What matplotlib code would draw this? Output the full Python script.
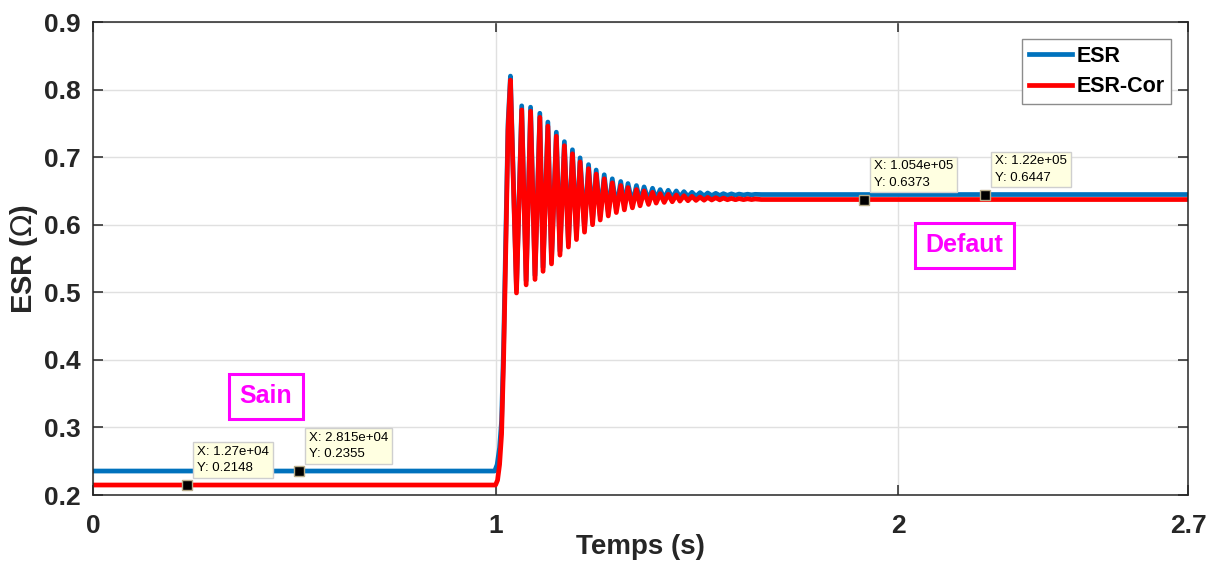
import matplotlib
matplotlib.use('Agg')
import matplotlib.pyplot as plt

plt.rcParams['font.family'] = ['Liberation Sans', 'DejaVu Sans']

# flat parts (s, ohm)
t_end = 2.72
red_healthy = 0.2148
blue_healthy = 0.2355
red_fault = 0.6373
blue_fault = 0.6447

# step at t = 1 s, up to first peak
red_rise_t = [1.000, 1.005, 1.010, 1.015, 1.020, 1.026, 1.031]
red_rise_v = [0.2148, 0.222, 0.245, 0.29, 0.40, 0.58, 0.74]
blue_rise_t = [0.998, 1.004, 1.010, 1.015, 1.020, 1.026, 1.031]
blue_rise_v = [0.2355, 0.245, 0.27, 0.31, 0.42, 0.60, 0.75]

# damped ringing, read peak by peak
peak_t = [1.037, 1.065, 1.087, 1.110, 1.130, 1.151, 1.171, 1.191, 1.210, 1.231,
          1.250, 1.270, 1.290, 1.311, 1.329, 1.350, 1.369, 1.390, 1.409, 1.429,
          1.449, 1.468, 1.488, 1.508, 1.527, 1.547, 1.566, 1.586, 1.605, 1.626, 1.645]
red_peak = [0.814, 0.770, 0.768, 0.759, 0.746, 0.731, 0.717, 0.705, 0.693, 0.683,
            0.675, 0.668, 0.662, 0.658, 0.655, 0.652, 0.650, 0.648, 0.646, 0.645,
            0.644, 0.643, 0.642, 0.641, 0.6405, 0.640, 0.6395, 0.639, 0.6387, 0.6384, 0.6381]
blue_peak = [0.820, 0.776, 0.774, 0.765, 0.752, 0.737, 0.723, 0.711, 0.699, 0.689,
             0.681, 0.674, 0.668, 0.664, 0.661, 0.658, 0.656, 0.654, 0.652, 0.651,
             0.650, 0.649, 0.648, 0.6475, 0.647, 0.6465, 0.646, 0.6457, 0.6454, 0.6452, 0.645]

trough_t = [1.052, 1.076, 1.098, 1.118, 1.139, 1.160, 1.181, 1.201, 1.221, 1.241,
            1.260, 1.280, 1.300, 1.320, 1.340, 1.359, 1.380, 1.399, 1.419, 1.439,
            1.458, 1.478, 1.498, 1.518, 1.537, 1.557, 1.576, 1.596, 1.616, 1.636]
red_trough = [0.499, 0.511, 0.519, 0.531, 0.542, 0.555, 0.567, 0.578, 0.589, 0.600,
              0.607, 0.613, 0.618, 0.622, 0.625, 0.628, 0.630, 0.632, 0.633, 0.634,
              0.635, 0.6355, 0.636, 0.6363, 0.6366, 0.6368, 0.637, 0.637, 0.6371, 0.6372]
blue_trough = [0.505, 0.517, 0.525, 0.537, 0.548, 0.561, 0.573, 0.584, 0.595, 0.606,
               0.613, 0.619, 0.624, 0.628, 0.631, 0.634, 0.636, 0.638, 0.639, 0.640,
               0.641, 0.6415, 0.642, 0.6425, 0.643, 0.6432, 0.6435, 0.6437, 0.6440, 0.6442]

# data tips: time (s), value, sample index shown
tip_t = [0.234, 0.512, 1.915, 2.216]
tip_v = [0.2148, 0.2355, 0.6373, 0.6447]
tip_x = ['1.27e+04', '2.815e+04', '1.054e+05', '1.22e+05']

xticks = [0, 1, 2, 2.72]
xtick_labels = ['0', '1', '2', '2.7']
yticks = [0.2, 0.3, 0.4, 0.5, 0.6, 0.7, 0.8, 0.9]


def build(rise_t, rise_v, pk, tr, v0, v1):
    pts = [(0.0, v0)] + list(zip(rise_t, rise_v))
    ring = sorted(list(zip(peak_t, pk)) + list(zip(trough_t, tr)))
    pts += ring + [(1.66, v1), (t_end, v1)]
    return [p[0] for p in pts], [p[1] for p in pts]


bt, bv = build(blue_rise_t, blue_rise_v, blue_peak, blue_trough, blue_healthy, blue_fault)
rt, rv = build(red_rise_t, red_rise_v, red_peak, red_trough, red_healthy, red_fault)

fig = plt.figure(figsize=(12.09, 5.75), dpi=100)
ax = fig.add_axes([0.0769, 0.1391, 0.9057, 0.8226])

ax.plot(bt, bv, color='#0072BD', lw=3.4, label='ESR', solid_joinstyle='round')
ax.plot(rt, rv, color='#FF0000', lw=3.4, label='ESR-Cor', solid_joinstyle='round')

# data tips
for t, v, xs in zip(tip_t, tip_v, tip_x):
    ax.plot(t, v, 's', ms=6.5, mfc='black', mec='#b8ad8a', mew=1.0, zorder=5)
    ax.annotate('X: %s\nY: %.4f' % (xs, v), (t, v), xytext=(10, 11),
                textcoords='offset pixels', ha='left', va='bottom',
                fontsize=9.5, linespacing=1.45, zorder=6,
                bbox=dict(boxstyle='square,pad=0.3', fc='#ffffe1', ec='#cfcfcf', lw=1))

# state labels
box = dict(boxstyle='square,pad=0.42', fc='white', ec='#ff00ff', lw=2.2)
ax.text(0.430, 0.3465, 'Sain', color='#ff00ff', fontsize=18, fontweight='bold',
        ha='center', va='center', bbox=box)
ax.text(2.164, 0.570, 'Defaut', color='#ff00ff', fontsize=18, fontweight='bold',
        ha='center', va='center', bbox=box)

ax.set_xlim(0, t_end)
ax.set_ylim(0.2, 0.9)
ax.set_xticks(xticks)
ax.set_xticklabels(xtick_labels)
ax.set_yticks(yticks)
ax.set_yticklabels(['%.1f' % y for y in yticks])
ax.grid(True, color='#e0e0e0', lw=1)
ax.set_axisbelow(True)

ax.tick_params(direction='in', length=7, width=1.1, top=True, right=True,
               labelsize=19, colors='#262626')
ax.tick_params(axis='x', pad=14)
ax.tick_params(axis='y', pad=9)
for lab in ax.get_xticklabels() + ax.get_yticklabels():
    lab.set_fontweight('bold')
for s in ax.spines.values():
    s.set_color('#262626')
    s.set_linewidth(1.1)

ax.set_xlabel('Temps (s)', fontsize=20, fontweight='bold', labelpad=-3, color='#262626')
ax.set_ylabel('ESR ($\\Omega$)', fontsize=21, fontweight='bold', labelpad=3, color='#262626')

leg = ax.legend(loc='upper right', handlelength=2.0, borderaxespad=0.8,
                fancybox=False, framealpha=1, edgecolor='#8c8c8c', handletextpad=0.2,
                borderpad=0.3, labelspacing=0.45, prop={'weight': 'bold', 'size': 15.5})
leg.get_frame().set_linewidth(1.0)

fig.savefig('out.png', dpi=100)
